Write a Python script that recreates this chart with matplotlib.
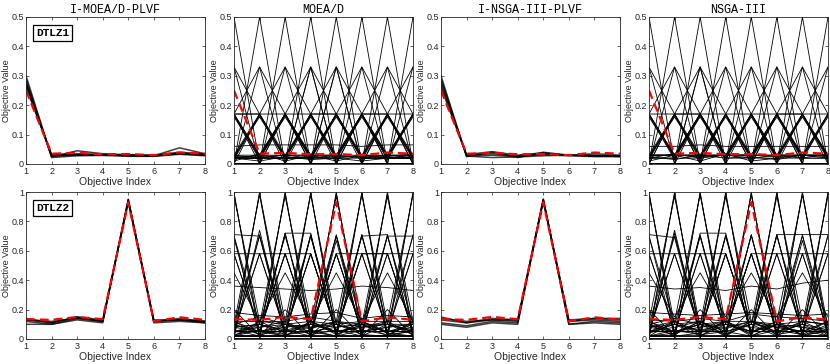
"""Parallel-coordinate plots of final populations on 8-objective DTLZ1 / DTLZ2."""

import matplotlib

matplotlib.use("Agg")
import matplotlib.pyplot as plt

objective_index = [1, 2, 3, 4, 5, 6, 7, 8]
algorithms = ["I-MOEA/D-PLVF", "MOEA/D", "I-NSGA-III-PLVF", "NSGA-III"]
problems = ["DTLZ1", "DTLZ2"]

# preferred solution (red dashed) per problem
dtlz1_preferred = [0.25, 0.035, 0.038, 0.033, 0.034, 0.030, 0.039, 0.035]
dtlz2_preferred = [0.135, 0.13, 0.15, 0.135, 0.93, 0.12, 0.148, 0.13]

# ---- DTLZ1 ----
plvf_moead_dtlz1 = [
    [0.300, 0.025, 0.045, 0.035, 0.030, 0.028, 0.055, 0.035],
    [0.270, 0.030, 0.035, 0.033, 0.032, 0.030, 0.040, 0.034],
    [0.280, 0.028, 0.032, 0.030, 0.030, 0.028, 0.037, 0.032],
    [0.260, 0.032, 0.030, 0.032, 0.028, 0.027, 0.035, 0.030],
    [0.290, 0.022, 0.028, 0.029, 0.026, 0.026, 0.033, 0.028],
    [0.275, 0.026, 0.031, 0.031, 0.029, 0.029, 0.036, 0.031],
]

plvf_nsga3_dtlz1 = [
    [0.300, 0.025, 0.040, 0.022, 0.040, 0.030, 0.030, 0.025],
    [0.280, 0.030, 0.035, 0.028, 0.035, 0.030, 0.028, 0.028],
    [0.270, 0.028, 0.030, 0.025, 0.032, 0.028, 0.025, 0.025],
    [0.260, 0.032, 0.042, 0.030, 0.038, 0.029, 0.035, 0.030],
    [0.290, 0.027, 0.022, 0.024, 0.028, 0.030, 0.027, 0.027],
]

moead_dtlz1 = [
    [0.50, 0.00, 0.00, 0.00, 0.00, 0.00, 0.00, 0.00],
    [0.00, 0.50, 0.00, 0.00, 0.00, 0.00, 0.00, 0.00],
    [0.00, 0.00, 0.50, 0.00, 0.00, 0.00, 0.00, 0.00],
    [0.00, 0.00, 0.00, 0.50, 0.00, 0.00, 0.00, 0.00],
    [0.00, 0.00, 0.00, 0.00, 0.50, 0.00, 0.00, 0.00],
    [0.00, 0.00, 0.00, 0.00, 0.00, 0.50, 0.00, 0.00],
    [0.00, 0.00, 0.00, 0.00, 0.00, 0.00, 0.50, 0.00],
    [0.00, 0.00, 0.00, 0.00, 0.00, 0.00, 0.00, 0.50],
    [0.33, 0.17, 0.00, 0.00, 0.00, 0.00, 0.00, 0.00],
    [0.17, 0.33, 0.00, 0.00, 0.00, 0.00, 0.00, 0.00],
    [0.33, 0.00, 0.17, 0.00, 0.00, 0.00, 0.00, 0.00],
    [0.00, 0.33, 0.17, 0.00, 0.00, 0.00, 0.00, 0.00],
    [0.00, 0.17, 0.33, 0.00, 0.00, 0.00, 0.00, 0.00],
    [0.00, 0.00, 0.33, 0.17, 0.00, 0.00, 0.00, 0.00],
    [0.00, 0.00, 0.17, 0.33, 0.00, 0.00, 0.00, 0.00],
    [0.00, 0.00, 0.00, 0.33, 0.17, 0.00, 0.00, 0.00],
    [0.00, 0.00, 0.00, 0.17, 0.33, 0.00, 0.00, 0.00],
    [0.00, 0.00, 0.00, 0.00, 0.33, 0.17, 0.00, 0.00],
    [0.00, 0.00, 0.00, 0.00, 0.17, 0.33, 0.00, 0.00],
    [0.00, 0.00, 0.00, 0.00, 0.00, 0.33, 0.17, 0.00],
    [0.00, 0.00, 0.00, 0.00, 0.00, 0.17, 0.33, 0.00],
    [0.00, 0.00, 0.00, 0.00, 0.00, 0.00, 0.33, 0.17],
    [0.00, 0.00, 0.00, 0.00, 0.00, 0.00, 0.17, 0.33],
    [0.00, 0.00, 0.00, 0.00, 0.00, 0.17, 0.00, 0.33],
    [0.17, 0.00, 0.00, 0.33, 0.00, 0.00, 0.00, 0.00],
    [0.00, 0.00, 0.00, 0.00, 0.33, 0.00, 0.17, 0.00],
    [0.17, 0.17, 0.17, 0.02, 0.02, 0.02, 0.02, 0.02],
    [0.02, 0.02, 0.17, 0.17, 0.17, 0.02, 0.02, 0.02],
    [0.02, 0.02, 0.02, 0.02, 0.17, 0.17, 0.17, 0.02],
    [0.02, 0.02, 0.02, 0.02, 0.02, 0.17, 0.17, 0.17],
    [0.17, 0.02, 0.17, 0.02, 0.17, 0.02, 0.02, 0.02],
    [0.02, 0.17, 0.02, 0.17, 0.02, 0.17, 0.02, 0.02],
    [0.02, 0.02, 0.17, 0.02, 0.17, 0.02, 0.17, 0.02],
    [0.02, 0.02, 0.02, 0.17, 0.02, 0.17, 0.02, 0.17],
    [0.17, 0.03, 0.03, 0.17, 0.03, 0.03, 0.17, 0.03],
    [0.03, 0.17, 0.03, 0.03, 0.17, 0.03, 0.03, 0.17],
    [0.17, 0.03, 0.17, 0.03, 0.03, 0.17, 0.03, 0.03],
    [0.03, 0.03, 0.17, 0.03, 0.03, 0.17, 0.03, 0.17],
    [0.17, 0.17, 0.02, 0.02, 0.17, 0.02, 0.02, 0.02],
    [0.02, 0.02, 0.02, 0.17, 0.17, 0.02, 0.02, 0.17],
    [0.16, 0.025, 0.16, 0.025, 0.16, 0.025, 0.16, 0.025],
    [0.025, 0.16, 0.025, 0.16, 0.025, 0.16, 0.025, 0.16],
    [0.165, 0.015, 0.165, 0.015, 0.165, 0.015, 0.165, 0.015],
    [0.015, 0.165, 0.015, 0.165, 0.015, 0.165, 0.015, 0.165],
    [0.06, 0.065, 0.065, 0.065, 0.065, 0.06, 0.065, 0.065],
    [0.02, 0.03, 0.02, 0.025, 0.02, 0.03, 0.02, 0.03],
    [0.03, 0.02, 0.03, 0.02, 0.03, 0.02, 0.03, 0.02],
    [0.01, 0.035, 0.01, 0.03, 0.01, 0.03, 0.025, 0.035],
    [0.025, 0.025, 0.03, 0.03, 0.025, 0.025, 0.03, 0.03],
    [0.02, 0.01, 0.025, 0.015, 0.02, 0.01, 0.02, 0.025],
]

nsga3_dtlz1 = [
    [0.50, 0.00, 0.00, 0.00, 0.00, 0.00, 0.00, 0.00],
    [0.00, 0.50, 0.00, 0.00, 0.00, 0.00, 0.00, 0.00],
    [0.00, 0.00, 0.50, 0.00, 0.00, 0.00, 0.00, 0.00],
    [0.00, 0.00, 0.00, 0.50, 0.00, 0.00, 0.00, 0.00],
    [0.00, 0.00, 0.00, 0.00, 0.50, 0.00, 0.00, 0.00],
    [0.00, 0.00, 0.00, 0.00, 0.00, 0.50, 0.00, 0.00],
    [0.00, 0.00, 0.00, 0.00, 0.00, 0.00, 0.50, 0.00],
    [0.00, 0.00, 0.00, 0.00, 0.00, 0.00, 0.00, 0.50],
    [0.33, 0.17, 0.00, 0.00, 0.00, 0.00, 0.00, 0.00],
    [0.17, 0.33, 0.00, 0.00, 0.00, 0.00, 0.00, 0.00],
    [0.33, 0.00, 0.00, 0.17, 0.00, 0.00, 0.00, 0.00],
    [0.00, 0.33, 0.17, 0.00, 0.00, 0.00, 0.00, 0.00],
    [0.00, 0.17, 0.33, 0.00, 0.00, 0.00, 0.00, 0.00],
    [0.00, 0.00, 0.33, 0.17, 0.00, 0.00, 0.00, 0.00],
    [0.00, 0.00, 0.17, 0.33, 0.00, 0.00, 0.00, 0.00],
    [0.00, 0.00, 0.00, 0.33, 0.17, 0.00, 0.00, 0.00],
    [0.00, 0.00, 0.00, 0.17, 0.33, 0.00, 0.00, 0.00],
    [0.00, 0.00, 0.00, 0.00, 0.33, 0.17, 0.00, 0.00],
    [0.00, 0.00, 0.00, 0.00, 0.17, 0.33, 0.00, 0.00],
    [0.00, 0.00, 0.00, 0.00, 0.00, 0.33, 0.17, 0.00],
    [0.00, 0.00, 0.00, 0.00, 0.00, 0.17, 0.33, 0.00],
    [0.00, 0.00, 0.00, 0.00, 0.00, 0.00, 0.33, 0.17],
    [0.00, 0.00, 0.00, 0.00, 0.00, 0.00, 0.17, 0.33],
    [0.00, 0.17, 0.00, 0.00, 0.00, 0.00, 0.00, 0.33],
    [0.00, 0.00, 0.33, 0.00, 0.00, 0.17, 0.00, 0.00],
    [0.17, 0.17, 0.17, 0.03, 0.03, 0.03, 0.03, 0.03],
    [0.03, 0.03, 0.17, 0.17, 0.17, 0.03, 0.03, 0.03],
    [0.03, 0.03, 0.03, 0.03, 0.17, 0.17, 0.17, 0.03],
    [0.03, 0.03, 0.03, 0.03, 0.03, 0.17, 0.17, 0.17],
    [0.17, 0.02, 0.17, 0.02, 0.17, 0.02, 0.02, 0.02],
    [0.02, 0.17, 0.02, 0.17, 0.02, 0.17, 0.02, 0.02],
    [0.02, 0.02, 0.17, 0.02, 0.17, 0.02, 0.17, 0.02],
    [0.02, 0.02, 0.02, 0.17, 0.02, 0.17, 0.02, 0.17],
    [0.17, 0.03, 0.03, 0.17, 0.03, 0.03, 0.17, 0.03],
    [0.03, 0.17, 0.03, 0.03, 0.17, 0.03, 0.03, 0.17],
    [0.17, 0.03, 0.17, 0.03, 0.03, 0.17, 0.03, 0.03],
    [0.03, 0.03, 0.17, 0.03, 0.03, 0.17, 0.03, 0.17],
    [0.02, 0.17, 0.17, 0.02, 0.02, 0.02, 0.17, 0.02],
    [0.16, 0.025, 0.16, 0.025, 0.16, 0.025, 0.16, 0.025],
    [0.025, 0.16, 0.025, 0.16, 0.025, 0.16, 0.025, 0.16],
    [0.165, 0.015, 0.165, 0.015, 0.165, 0.015, 0.165, 0.015],
    [0.015, 0.165, 0.015, 0.165, 0.015, 0.165, 0.015, 0.165],
    [0.06, 0.06, 0.065, 0.06, 0.06, 0.06, 0.06, 0.06],
    [0.03, 0.03, 0.025, 0.03, 0.03, 0.025, 0.03, 0.03],
    [0.02, 0.035, 0.02, 0.03, 0.02, 0.03, 0.02, 0.035],
    [0.01, 0.03, 0.01, 0.035, 0.01, 0.02, 0.03, 0.025],
    [0.025, 0.015, 0.03, 0.02, 0.025, 0.015, 0.03, 0.02],
]

# ---- DTLZ2 ----
plvf_moead_dtlz2 = [
    [0.13, 0.11, 0.15, 0.12, 0.94, 0.12, 0.13, 0.12],
    [0.12, 0.10, 0.14, 0.12, 0.95, 0.12, 0.13, 0.11],
    [0.10, 0.10, 0.13, 0.11, 0.95, 0.11, 0.12, 0.11],
    [0.14, 0.11, 0.15, 0.13, 0.93, 0.12, 0.14, 0.12],
    [0.13, 0.12, 0.14, 0.12, 0.94, 0.13, 0.13, 0.12],
]

plvf_nsga3_dtlz2 = [
    [0.15, 0.11, 0.14, 0.13, 0.95, 0.12, 0.14, 0.14],
    [0.14, 0.12, 0.13, 0.13, 0.94, 0.13, 0.14, 0.13],
    [0.11, 0.09, 0.12, 0.11, 0.95, 0.10, 0.12, 0.11],
    [0.10, 0.08, 0.11, 0.10, 0.95, 0.10, 0.11, 0.10],
    [0.13, 0.11, 0.13, 0.12, 0.94, 0.12, 0.13, 0.12],
]

moead_dtlz2 = [
    [1.00, 0.00, 0.00, 0.00, 0.00, 0.00, 0.00, 0.00],
    [0.00, 1.00, 0.00, 0.00, 0.00, 0.00, 0.00, 0.00],
    [0.00, 0.00, 1.00, 0.00, 0.00, 0.00, 0.00, 0.00],
    [0.00, 0.00, 0.00, 1.00, 0.00, 0.00, 0.00, 0.00],
    [0.00, 0.00, 0.00, 0.00, 1.00, 0.00, 0.00, 0.00],
    [0.00, 0.00, 0.00, 0.00, 0.00, 1.00, 0.00, 0.00],
    [0.00, 0.00, 0.00, 0.00, 0.00, 0.00, 1.00, 0.00],
    [0.00, 0.00, 0.00, 0.00, 0.00, 0.00, 0.00, 1.00],
    [0.97, 0.12, 0.10, 0.08, 0.10, 0.05, 0.08, 0.10],
    [0.10, 0.98, 0.05, 0.10, 0.08, 0.10, 0.05, 0.08],
    [0.08, 0.10, 0.97, 0.12, 0.05, 0.08, 0.10, 0.05],
    [0.05, 0.08, 0.12, 0.98, 0.10, 0.05, 0.08, 0.10],
    [0.10, 0.05, 0.08, 0.10, 0.97, 0.12, 0.05, 0.08],
    [0.08, 0.10, 0.05, 0.08, 0.12, 0.98, 0.10, 0.05],
    [0.05, 0.08, 0.10, 0.05, 0.08, 0.10, 0.97, 0.12],
    [0.12, 0.05, 0.08, 0.10, 0.05, 0.08, 0.12, 0.98],
    [0.99, 0.05, 0.02, 0.12, 0.03, 0.10, 0.02, 0.06],
    [0.04, 0.99, 0.12, 0.03, 0.06, 0.02, 0.10, 0.03],
    [0.12, 0.03, 0.99, 0.04, 0.10, 0.03, 0.02, 0.12],
    [0.02, 0.12, 0.04, 0.99, 0.03, 0.12, 0.04, 0.02],
    [0.06, 0.02, 0.10, 0.03, 0.99, 0.04, 0.12, 0.03],
    [0.03, 0.06, 0.02, 0.12, 0.04, 0.99, 0.03, 0.10],
    [0.10, 0.03, 0.06, 0.02, 0.12, 0.03, 0.99, 0.04],
    [0.02, 0.10, 0.03, 0.06, 0.02, 0.12, 0.04, 0.99],
    [0.71, 0.70, 0.02, 0.02, 0.02, 0.02, 0.02, 0.02],
    [0.69, 0.02, 0.72, 0.02, 0.02, 0.02, 0.02, 0.02],
    [0.02, 0.71, 0.02, 0.71, 0.02, 0.02, 0.02, 0.02],
    [0.02, 0.02, 0.72, 0.02, 0.70, 0.02, 0.02, 0.02],
    [0.02, 0.02, 0.02, 0.71, 0.02, 0.71, 0.02, 0.02],
    [0.02, 0.02, 0.02, 0.02, 0.71, 0.02, 0.71, 0.02],
    [0.02, 0.02, 0.02, 0.02, 0.02, 0.71, 0.02, 0.71],
    [0.02, 0.02, 0.72, 0.72, 0.02, 0.02, 0.02, 0.02],
    [0.02, 0.02, 0.02, 0.02, 0.02, 0.70, 0.71, 0.02],
    [0.02, 0.02, 0.02, 0.02, 0.02, 0.02, 0.70, 0.70],
    [0.70, 0.02, 0.02, 0.70, 0.02, 0.02, 0.02, 0.02],
    [0.02, 0.74, 0.02, 0.02, 0.67, 0.02, 0.02, 0.02],
    [0.58, 0.58, 0.58, 0.58, 0.05, 0.05, 0.05, 0.05],
    [0.05, 0.05, 0.05, 0.05, 0.58, 0.58, 0.58, 0.58],
    [0.58, 0.05, 0.58, 0.05, 0.58, 0.05, 0.05, 0.05],
    [0.05, 0.58, 0.05, 0.58, 0.05, 0.58, 0.05, 0.05],
    [0.05, 0.05, 0.58, 0.05, 0.58, 0.05, 0.58, 0.05],
    [0.05, 0.05, 0.05, 0.58, 0.05, 0.58, 0.05, 0.58],
    [0.58, 0.05, 0.05, 0.58, 0.05, 0.05, 0.58, 0.05],
    [0.05, 0.58, 0.05, 0.05, 0.58, 0.05, 0.05, 0.58],
    [0.05, 0.05, 0.58, 0.05, 0.05, 0.58, 0.58, 0.05],
    [0.70, 0.10, 0.70, 0.10, 0.70, 0.10, 0.70, 0.10],
    [0.10, 0.70, 0.10, 0.70, 0.10, 0.70, 0.10, 0.70],
    [0.36, 0.35, 0.34, 0.33, 0.34, 0.36, 0.35, 0.33],
    [0.45, 0.12, 0.45, 0.12, 0.45, 0.12, 0.45, 0.12],
    [0.12, 0.12, 0.12, 0.15, 0.12, 0.10, 0.10, 0.10],
    [0.10, 0.15, 0.10, 0.12, 0.10, 0.12, 0.12, 0.12],
    [0.08, 0.05, 0.10, 0.07, 0.12, 0.08, 0.10, 0.06],
    [0.05, 0.10, 0.06, 0.10, 0.05, 0.09, 0.05, 0.10],
    [0.18, 0.16, 0.15, 0.17, 0.18, 0.14, 0.16, 0.15],
    [0.02, 0.06, 0.03, 0.05, 0.02, 0.06, 0.03, 0.05],
    [0.20, 0.02, 0.20, 0.02, 0.20, 0.02, 0.20, 0.02],
]

nsga3_dtlz2 = [
    [1.00, 0.00, 0.00, 0.00, 0.00, 0.00, 0.00, 0.00],
    [0.00, 1.00, 0.00, 0.00, 0.00, 0.00, 0.00, 0.00],
    [0.00, 0.00, 1.00, 0.00, 0.00, 0.00, 0.00, 0.00],
    [0.00, 0.00, 0.00, 1.00, 0.00, 0.00, 0.00, 0.00],
    [0.00, 0.00, 0.00, 0.00, 1.00, 0.00, 0.00, 0.00],
    [0.00, 0.00, 0.00, 0.00, 0.00, 1.00, 0.00, 0.00],
    [0.00, 0.00, 0.00, 0.00, 0.00, 0.00, 1.00, 0.00],
    [0.00, 0.00, 0.00, 0.00, 0.00, 0.00, 0.00, 1.00],
    [0.98, 0.10, 0.12, 0.05, 0.10, 0.08, 0.05, 0.12],
    [0.12, 0.97, 0.08, 0.12, 0.05, 0.10, 0.08, 0.05],
    [0.05, 0.12, 0.98, 0.10, 0.08, 0.05, 0.12, 0.10],
    [0.10, 0.05, 0.10, 0.97, 0.12, 0.08, 0.05, 0.08],
    [0.08, 0.10, 0.05, 0.12, 0.98, 0.10, 0.08, 0.05],
    [0.05, 0.08, 0.12, 0.05, 0.10, 0.97, 0.12, 0.10],
    [0.12, 0.05, 0.08, 0.10, 0.05, 0.12, 0.98, 0.08],
    [0.08, 0.12, 0.05, 0.08, 0.12, 0.05, 0.10, 0.97],
    [0.99, 0.04, 0.10, 0.02, 0.12, 0.03, 0.06, 0.02],
    [0.03, 0.99, 0.02, 0.10, 0.04, 0.12, 0.02, 0.06],
    [0.10, 0.02, 0.99, 0.03, 0.12, 0.04, 0.10, 0.02],
    [0.02, 0.12, 0.03, 0.99, 0.02, 0.10, 0.03, 0.12],
    [0.12, 0.03, 0.12, 0.02, 0.99, 0.02, 0.12, 0.04],
    [0.04, 0.10, 0.02, 0.12, 0.03, 0.99, 0.02, 0.10],
    [0.02, 0.04, 0.12, 0.03, 0.10, 0.02, 0.99, 0.03],
    [0.10, 0.02, 0.04, 0.12, 0.02, 0.10, 0.03, 0.99],
    [0.71, 0.69, 0.02, 0.02, 0.02, 0.02, 0.02, 0.02],
    [0.70, 0.02, 0.71, 0.02, 0.02, 0.02, 0.02, 0.02],
    [0.02, 0.72, 0.02, 0.70, 0.02, 0.02, 0.02, 0.02],
    [0.02, 0.02, 0.72, 0.72, 0.02, 0.02, 0.02, 0.02],
    [0.02, 0.02, 0.02, 0.71, 0.02, 0.71, 0.02, 0.02],
    [0.02, 0.02, 0.02, 0.02, 0.71, 0.02, 0.71, 0.02],
    [0.02, 0.02, 0.02, 0.02, 0.02, 0.71, 0.02, 0.71],
    [0.02, 0.02, 0.02, 0.02, 0.02, 0.71, 0.71, 0.71],
    [0.02, 0.02, 0.70, 0.02, 0.71, 0.02, 0.02, 0.02],
    [0.02, 0.74, 0.02, 0.02, 0.02, 0.02, 0.67, 0.02],
    [0.58, 0.58, 0.58, 0.58, 0.05, 0.05, 0.05, 0.05],
    [0.05, 0.05, 0.05, 0.05, 0.58, 0.58, 0.58, 0.58],
    [0.58, 0.05, 0.58, 0.05, 0.58, 0.05, 0.05, 0.05],
    [0.05, 0.58, 0.05, 0.58, 0.05, 0.58, 0.05, 0.05],
    [0.05, 0.05, 0.58, 0.05, 0.58, 0.05, 0.58, 0.05],
    [0.05, 0.05, 0.05, 0.58, 0.05, 0.58, 0.05, 0.58],
    [0.58, 0.05, 0.05, 0.58, 0.05, 0.05, 0.58, 0.05],
    [0.05, 0.58, 0.05, 0.05, 0.58, 0.05, 0.05, 0.58],
    [0.70, 0.10, 0.70, 0.10, 0.70, 0.10, 0.70, 0.10],
    [0.10, 0.70, 0.10, 0.70, 0.10, 0.70, 0.10, 0.70],
    [0.36, 0.34, 0.35, 0.33, 0.36, 0.34, 0.38, 0.40],
    [0.45, 0.15, 0.45, 0.15, 0.45, 0.15, 0.45, 0.15],
    [0.13, 0.12, 0.14, 0.12, 0.17, 0.15, 0.14, 0.12],
    [0.10, 0.14, 0.10, 0.12, 0.12, 0.10, 0.12, 0.10],
    [0.08, 0.05, 0.10, 0.07, 0.12, 0.08, 0.10, 0.06],
    [0.05, 0.10, 0.06, 0.10, 0.05, 0.09, 0.05, 0.12],
    [0.18, 0.17, 0.16, 0.17, 0.18, 0.17, 0.16, 0.17],
    [0.02, 0.06, 0.03, 0.05, 0.02, 0.06, 0.03, 0.05],
    [0.20, 0.02, 0.20, 0.02, 0.20, 0.02, 0.20, 0.02],
]

panel_lines = [
    [plvf_moead_dtlz1, moead_dtlz1, plvf_nsga3_dtlz1, nsga3_dtlz1],
    [plvf_moead_dtlz2, moead_dtlz2, plvf_nsga3_dtlz2, nsga3_dtlz2],
]
preferred = [dtlz1_preferred, dtlz2_preferred]
y_max = [0.5, 1.0]
y_ticks = [[0, 0.1, 0.2, 0.3, 0.4, 0.5], [0, 0.2, 0.4, 0.6, 0.8, 1.0]]
y_tick_labels = [["0", "0.1", "0.2", "0.3", "0.4", "0.5"],
                 ["0", "0.2", "0.4", "0.6", "0.8", "1"]]

plt.rcParams["font.family"] = "Liberation Sans"
fig = plt.figure(figsize=(8.3, 3.64), dpi=100)

# axes boxes in figure pixels (left edges), converted to fractions below
left_px = [26, 234, 441, 649]
width_px, height_px = 179, 147
top_px = [17, 192]
text_grey = "#262626"

for r in range(2):
    for c in range(4):
        ax = fig.add_axes([left_px[c] / 830, 1 - (top_px[r] + height_px) / 364,
                           width_px / 830, height_px / 364])
        dense = c in (1, 3)
        for sol in panel_lines[r][c]:
            if dense:
                ax.plot(objective_index, sol, color="black", linewidth=0.6)
            else:
                ax.plot(objective_index, sol, color="black", linewidth=1.1, alpha=0.75)
        ax.plot(objective_index, preferred[r], color="red", linestyle=(0, (4, 2.2)),
                linewidth=1.6)
        ax.set_xlim(1, 8)
        ax.set_ylim(0, y_max[r])
        ax.set_xticks(objective_index)
        ax.set_yticks(y_ticks[r])
        ax.set_yticklabels(y_tick_labels[r])
        ax.tick_params(direction="in", length=2.5, width=0.5, top=True, right=True,
                       labelsize=6.5, colors=text_grey)
        ax.tick_params(axis="y", pad=1.5)
        ax.tick_params(axis="x", pad=2)
        for spine in ax.spines.values():
            spine.set_linewidth(0.6)
            spine.set_color(text_grey)
        ax.set_xlabel("Objective Index", fontsize=7.5, color=text_grey, labelpad=1)
        ax.set_ylabel("Objective Value", fontsize=6.5, color=text_grey)
        ax.yaxis.set_label_coords(-0.085, 0.5)
        if r == 0:
            ax.set_title(algorithms[c], fontsize=8.5, family="Liberation Mono", pad=3)
        if c == 0:
            ax.text(0.055, 0.87, problems[r], transform=ax.transAxes, fontsize=8,
                    family="Liberation Mono", fontweight="bold",
                    bbox=dict(boxstyle="square,pad=0.25", facecolor="white",
                              edgecolor="black", linewidth=0.9))

fig.savefig("out.png", dpi=100)
